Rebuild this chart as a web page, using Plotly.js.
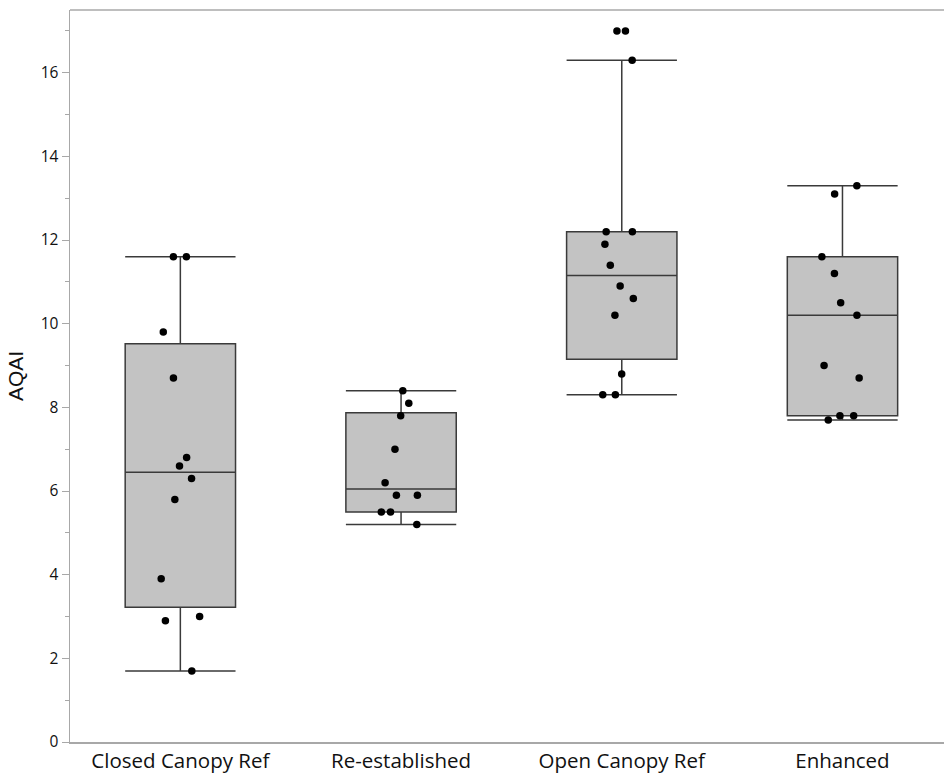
<!DOCTYPE html>
<html>
<head>
<meta charset="utf-8">
<script src="https://cdn.plot.ly/plotly-3.0.1.min.js"></script>
<style>html,body{margin:0;padding:0;background:#fff;overflow:hidden;}#chart{width:944px;height:774px;}</style>
</head>
<body>
<div id="chart"></div>
<script>
// Categories
const categories = ["Closed Canopy Ref", "Re-established", "Open Canopy Ref", "Enhanced"];

const closedCanopyRef = [11.6, 11.6, 9.8, 8.7, 6.8, 6.6, 6.3, 5.8, 3.9, 3.0, 2.9, 1.7];
const reEstablished   = [8.4, 8.1, 7.8, 7.0, 6.2, 5.9, 5.9, 5.5, 5.5, 5.2];
const openCanopyRef   = [17.0, 17.0, 16.3, 12.2, 12.2, 11.9, 11.4, 10.9, 10.6, 10.2, 8.8, 8.3, 8.3];
const enhanced        = [13.3, 13.1, 11.6, 11.2, 10.5, 10.2, 9.0, 8.7, 7.8, 7.8, 7.7];

// Box statistics
const q1Values     = [3.22, 5.5, 9.15, 7.8];
const medianValues = [6.45, 6.05, 11.15, 10.2];
const q3Values     = [9.52, 7.87, 12.2, 11.6];
const lowerWhisker = [1.7, 5.2, 8.3, 7.7];
const upperWhisker = [11.6, 8.4, 16.3, 13.3];

// Y-axis ticks
const yTickValues = [0, 2, 4, 6, 8, 10, 12, 14, 16];

const groups = [closedCanopyRef, reEstablished, openCanopyRef, enhanced];
const ptX = [], ptY = [];
groups.forEach((g, i) => g.forEach(v => { ptX.push(categories[i]); ptY.push(v); }));

const boxTrace = {
  type: 'box',
  x: categories,
  q1: q1Values,
  median: medianValues,
  q3: q3Values,
  lowerfence: lowerWhisker,
  upperfence: upperWhisker,
  boxpoints: false,
  width: 0.5,
  whiskerwidth: 1,
  fillcolor: '#c3c3c3',
  line: {color: '#3a3a3a', width: 1.5},
  hoverinfo: 'skip',
  showlegend: false
};

const pointsTrace = {
  type: 'box',
  x: ptX,
  y: ptY,
  boxpoints: 'all',
  jitter: 0.45,
  pointpos: 0,
  width: 0.5,
  fillcolor: 'rgba(0,0,0,0)',
  line: {color: 'rgba(0,0,0,0)', width: 0},
  marker: {color: '#000000', size: 7.5},
  hoverinfo: 'y',
  showlegend: false
};

const layout = {
  width: 944,
  height: 774,
  margin: {l: 70, r: 0, t: 10, b: 32},
  paper_bgcolor: '#ffffff',
  plot_bgcolor: '#ffffff',
  showlegend: false,
  boxmode: 'overlay',
  font: {family: '"Open Sans", "Noto Sans", sans-serif', color: '#111'},
  xaxis: {
    type: 'category',
    range: [-0.5, 3.46],
    showline: true,
    linecolor: '#a8a8a8',
    linewidth: 1.5,
    mirror: false,
    ticks: '',
    showgrid: false,
    zeroline: false,
    tickfont: {size: 20.5, color: '#111'}
  },
  yaxis: {
    range: [0, 17.5],
    tickvals: yTickValues,
    showline: true,
    linecolor: '#a8a8a8',
    linewidth: 1.5,
    mirror: false,
    ticks: 'outside',
    ticklen: 7,
    tickcolor: '#a8a8a8',
    tickwidth: 1,
    minor: {dtick: 1, ticks: 'outside', ticklen: 4, tickcolor: '#a8a8a8', tickwidth: 1, showgrid: false},
    showgrid: false,
    zeroline: false,
    tickfont: {size: 15.5, color: '#111'},
    title: {text: 'AQAI', font: {family: '"Liberation Sans", Arial, sans-serif', size: 21, color: '#111'}, standoff: 11}
  },
  shapes: [{
    type: 'line', xref: 'paper', yref: 'paper', x0: 0, x1: 1, y0: 1, y1: 1,
    line: {color: '#a8a8a8', width: 1.5}
  }]
};

Plotly.newPlot('chart', [boxTrace, pointsTrace], layout, {displayModeBar: false, staticPlot: true});
</script>
</body>
</html>
